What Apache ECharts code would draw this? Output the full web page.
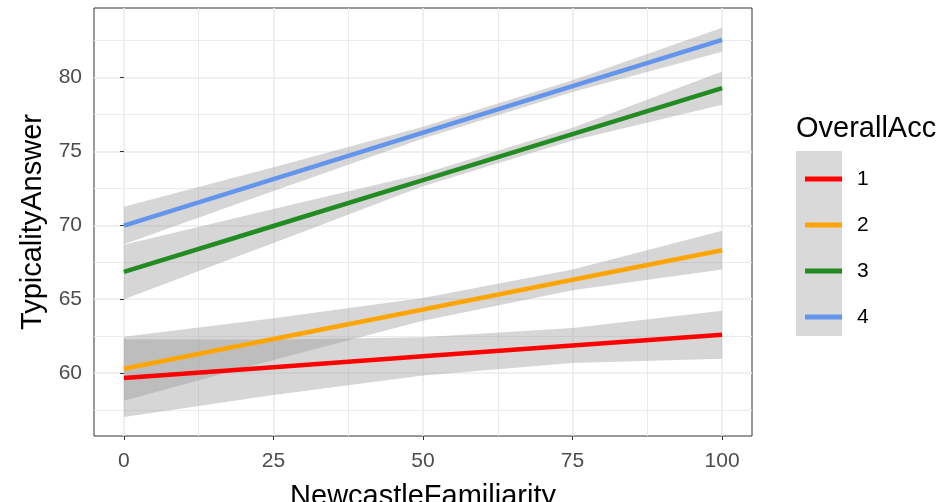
<!DOCTYPE html>
<html><head><meta charset="utf-8">
<script src="https://cdn.jsdelivr.net/npm/echarts@6/dist/echarts.min.js"></script>
<style>html,body{margin:0;padding:0;background:#fff}#c{width:943px;height:502px}</style>
</head><body><div id="c"></div>
<script>
// ---- data ----
const xValues = [0, 25, 50, 75, 100];
const groups = ['1', '2', '3', '4'];

const fit1   = [59.66, 60.39, 61.13, 61.86, 62.59];
const lower1 = [57.03, 58.51, 59.83, 60.68, 60.96];
const upper1 = [62.29, 62.27, 62.43, 63.04, 64.22];

const fit2   = [60.29, 62.30, 64.30, 66.31, 68.31];
const lower2 = [58.12, 60.89, 63.53, 65.61, 67.00];
const upper2 = [62.46, 63.71, 65.07, 67.01, 69.62];

const fit3   = [66.84, 69.95, 73.06, 76.17, 79.28];
const lower3 = [65.00, 68.80, 72.64, 75.74, 78.16];
const upper3 = [68.68, 71.10, 73.48, 76.60, 80.40];

const fit4   = [69.98, 73.12, 76.27, 79.41, 82.55];
const lower4 = [68.71, 72.32, 75.87, 79.01, 81.74];
const upper4 = [71.25, 73.92, 76.67, 79.81, 83.36];

const xTickLabels = [0, 25, 50, 75, 100];
const yTickLabels = [60, 65, 70, 75, 80];
const xMinorTicks = [12.5, 37.5, 62.5, 87.5];
const yMinorTicks = [57.5, 62.5, 67.5, 72.5, 77.5, 82.5];

// ---- styles ----
const lineColors = ['#ff0000', '#ffa500', '#228b22', '#6495ed'];
const ribbonColor = 'rgba(153,153,153,0.4)';
const FONT = 'Liberation Sans, Arial, Helvetica, sans-serif';

const fits = [fit1, fit2, fit3, fit4];
const lowers = [lower1, lower2, lower3, lower4];
const uppers = [upper1, upper2, upper3, upper4];

const series = [];
groups.forEach((g, i) => {
  const ribbonData = xValues.map((x, k) => [x, lowers[i][k], uppers[i][k]]);
  const fit = xValues.map((x, k) => [x, fits[i][k]]);
  series.push({
    name: 'ribbon-' + g, type: 'custom', silent: true,
    xAxisIndex: 0, yAxisIndex: 0,
    encode: { x: 0, y: [1, 2] },
    data: ribbonData,
    renderItem: function (params, api) {
      if (params.dataIndex !== 0) return null;
      const top = ribbonData.map(d => api.coord([d[0], d[2]]));
      const bot = ribbonData.map(d => api.coord([d[0], d[1]])).reverse();
      return {
        type: 'polygon',
        shape: { points: top.concat(bot) },
        style: { fill: ribbonColor, stroke: null }
      };
    }
  });
  series.push({
    name: g, type: 'line', data: fit, symbol: 'none',
    color: lineColors[i],
    lineStyle: { width: 4.5, color: lineColors[i], cap: 'butt' },
    itemStyle: { color: lineColors[i] },
    xAxisIndex: 0, yAxisIndex: 0
  });
});

const chart = echarts.init(document.getElementById('c'), null, { renderer: 'canvas' });
const gridLine = { show: true, lineStyle: { color: '#ebebeb', width: 1.6 } };
const minorLine = { show: true, lineStyle: { color: '#ebebeb', width: 1 } };

chart.setOption({
  animation: false,
  textStyle: { fontFamily: FONT },
  grid: {
    left: 94, right: 191, top: 8, bottom: 66,
    containLabel: false, outerBoundsMode: 'none',
    show: true, borderColor: '#333333', borderWidth: 1, backgroundColor: 'transparent'
  },
  xAxis: [
    {
      type: 'value', min: -5, max: 105,
      axisLine: { show: false },
      axisTick: { show: true, length: 4, lineStyle: { color: '#333333', width: 1 }, customValues: xTickLabels },
      axisLabel: { show: true, customValues: xTickLabels, color: '#4d4d4d', fontSize: 21, margin: 15, fontFamily: FONT },
      splitLine: gridLine,
      name: 'NewcastleFamiliarity', nameLocation: 'middle', nameGap: 46,
      nameTextStyle: { color: '#000000', fontSize: 29, fontFamily: FONT }
    },
    {
      type: 'value', min: -5, max: 105, gridIndex: 0,
      axisLine: { show: false },
      axisTick: { show: false, customValues: xMinorTicks },
      axisLabel: { show: false, customValues: xMinorTicks },
      splitLine: minorLine
    }
  ],
  yAxis: [
    {
      type: 'value', min: 55.74, max: 84.70,
      axisLine: { show: false },
      axisTick: { show: true, length: 4, lineStyle: { color: '#333333', width: 1 }, customValues: yTickLabels },
      axisLabel: { show: true, customValues: yTickLabels, color: '#4d4d4d', fontSize: 21, margin: 12, fontFamily: FONT },
      splitLine: gridLine,
      name: 'TypicalityAnswer', nameLocation: 'middle', nameGap: 43,
      nameTextStyle: { color: '#000000', fontSize: 29, fontFamily: FONT }
    },
    {
      type: 'value', min: 55.74, max: 84.70, gridIndex: 0, position: 'left',
      axisLine: { show: false },
      axisTick: { show: false, customValues: yMinorTicks },
      axisLabel: { show: false, customValues: yMinorTicks },
      splitLine: minorLine
    }
  ],
  legend: {
    data: groups, orient: 'vertical', left: 800, top: 163.5,
    icon: 'rect', itemWidth: 37, itemHeight: 5, itemGap: 25, z: 10,
    selectedMode: false,
    formatter: '{a|{name}}',
    textStyle: {
      color: '#000000', fontSize: 21, fontFamily: FONT, lineHeight: 21,
      rich: { a: { padding: [0, 0, 0, 10], fontSize: 21, lineHeight: 21, fontFamily: FONT, color: '#000000' } }
    }
  },
  graphic: [
    { type: 'rect', left: 796, top: 151, z: 1, silent: true,
      shape: { width: 46, height: 185 }, style: { fill: '#d9d9d9' } },
    { type: 'text', left: 796, top: 114, z: 5,
      style: { text: 'OverallAcc', fontSize: 29, fontFamily: FONT, fill: '#000000' } }
  ],
  series: series
});
</script></body></html>
